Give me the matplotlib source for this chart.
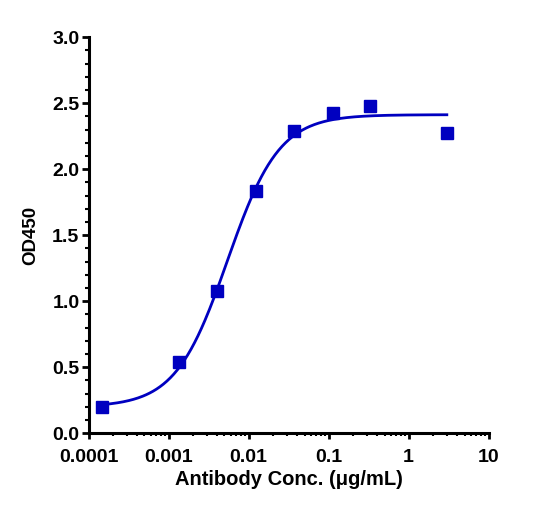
import numpy as np
import matplotlib
matplotlib.use('Agg')
import matplotlib.pyplot as plt
from matplotlib.ticker import FixedLocator, LogLocator, MultipleLocator, NullFormatter

plt.rcParams['font.family'] = ['Liberation Sans', 'DejaVu Sans']
plt.rcParams['font.weight'] = 'bold'

# --- data ---
conc = np.array([0.000149, 0.00137, 0.00407, 0.0123, 0.0371, 0.112, 0.331, 3.0])
od450 = np.array([0.197, 0.538, 1.08, 1.833, 2.292, 2.429, 2.48, 2.273])

x_ticks = [0.0001, 0.001, 0.01, 0.1, 1, 10]
x_tick_labels = ['0.0001', '0.001', '0.01', '0.1', '1', '10']
y_ticks = [0.0, 0.5, 1.0, 1.5, 2.0, 2.5, 3.0]

color = '#0000C0'


# 4PL fit: grid over logEC50 / hill, bottom & top by linear least squares
def fit_4pl(x, y):
    lx = np.log10(x)
    best = None
    for lec in np.linspace(-3.5, -1.5, 401):
        for h in np.linspace(0.5, 3.0, 251):
            s = 1.0 / (1.0 + 10 ** ((lec - lx) * h))
            A = np.column_stack([1 - s, s])
            coef, *_ = np.linalg.lstsq(A, y, rcond=None)
            err = np.sum((A @ coef - y) ** 2)
            if best is None or err < best[0]:
                best = (err, coef[0], coef[1], lec, h)
    return best[1:]


bottom, top, log_ec50, hill = fit_4pl(conc, od450)
xc = np.logspace(np.log10(conc.min()), np.log10(conc.max()), 300)
yc = bottom + (top - bottom) / (1 + 10 ** ((log_ec50 - np.log10(xc)) * hill))

fig = plt.figure(figsize=(5.55, 5.17), dpi=100)
ax = fig.add_axes([0.1595, 0.1619, 0.721, 0.766])

ax.plot(xc, yc, color=color, linewidth=2, zorder=2)
ax.plot(conc, od450, linestyle='none', marker='s', markersize=8.5,
        color=color, zorder=3, clip_on=False)

ax.set_xscale('log')
ax.set_xlim(0.0001, 10)
ax.set_ylim(0, 3.0)
ax.xaxis.set_major_locator(FixedLocator(x_ticks))
ax.set_xticklabels(x_tick_labels)
ax.xaxis.set_minor_locator(LogLocator(base=10, subs=np.arange(2, 10)))
ax.xaxis.set_minor_formatter(NullFormatter())
ax.set_yticks(y_ticks)
ax.set_yticklabels([f'{v:.1f}' for v in y_ticks])
ax.yaxis.set_minor_locator(MultipleLocator(0.1))

for s in ['top', 'right']:
    ax.spines[s].set_visible(False)
for s in ['left', 'bottom']:
    ax.spines[s].set_linewidth(2.2)

ax.tick_params(axis='x', which='major', length=4, width=2, labelsize=14, pad=7)
ax.tick_params(axis='x', which='minor', length=2.5, width=1.5)
ax.tick_params(axis='y', which='major', length=5, width=2, labelsize=14, pad=1.5)
ax.tick_params(axis='y', which='minor', length=3, width=1.5)
for lbl in ax.get_xticklabels() + ax.get_yticklabels():
    lbl.set_fontweight('bold')

ax.set_xlabel('Antibody Conc. (μg/mL)', fontsize=14.5, fontweight='bold', labelpad=3.5)
ax.set_ylabel('OD450', fontsize=13.5, fontweight='bold', labelpad=9)

fig.savefig('out.png', dpi=100)
